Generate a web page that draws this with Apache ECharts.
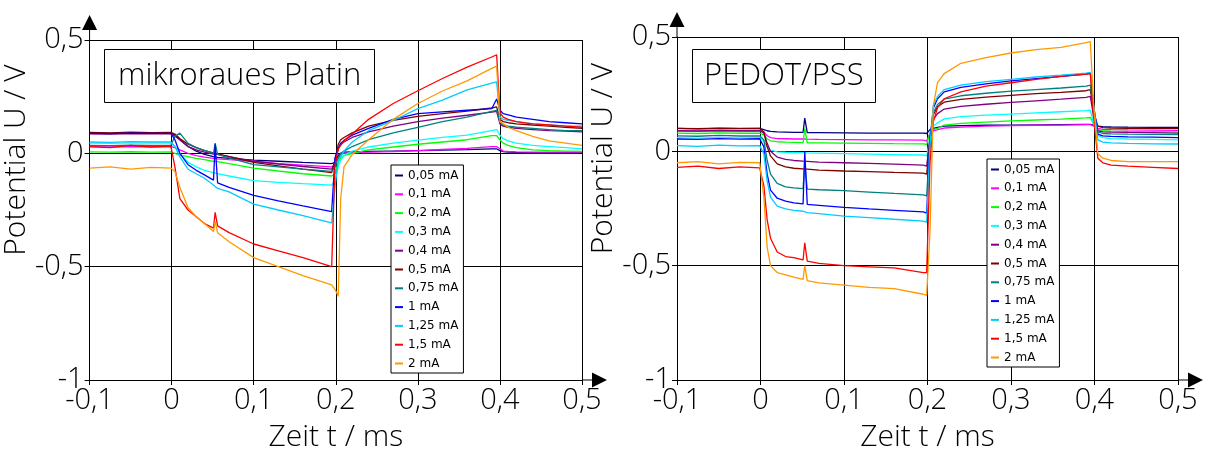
<!DOCTYPE html>
<html><head><meta charset="utf-8">
<script src="https://cdn.jsdelivr.net/npm/echarts@6/dist/echarts.min.js"></script>
<style>html,body{margin:0;padding:0;background:#fff}#c{width:1210px;height:457px}</style>
</head><body><div id="c"></div>
<script>
const seriesNames = ['0,05 mA','0,1 mA','0,2 mA','0,3 mA','0,4 mA','0,5 mA','0,75 mA','1 mA','1,25 mA','1,5 mA','2 mA'];
const seriesColors = ['#000080','#FF00FF','#00FF00','#00FFFF','#800080','#800000','#008080','#0000FF','#00CCFF','#FF0000','#FF9900'];
const xTickLabels = ['-0,1','0','0,1','0,2','0,3','0,4','0,5'];
const yTickLabels = ['-1','-0,5','0','0,5'];
const panelTitles = ['mikroraues Platin','PEDOT/PSS'];

// time axis (ms), left panel
const tPlatin = [-0.1,-0.075,-0.05,-0.025,-0.001,0.004,0.01,0.02,0.03,0.04,0.051,0.053,0.056,0.07,0.1,0.13,0.16,0.195,0.199,0.203,0.206,0.21,0.22,0.24,0.27,0.3,0.33,0.36,0.39,0.396,0.4,0.404,0.41,0.42,0.44,0.46,0.48,0.5];
const platin005 = [0.09,0.088,0.09,0.089,0.09, 0.08,0.06,0.03,0.01,-0.005,-0.015,-0.01,-0.018,-0.022,-0.03,-0.035,-0.04,-0.045, -0.04,-0.01,0,0.005,0.006,0.008,0.01,0.012,0.014,0.016,0.02,0.02, 0.012,0.008,0.005,0.004,0.003,0.003,0.003,0.003];
const platin01 = [0.03,0.028,0.03,0.029,0.03, 0.025,0.015,0,-0.01,-0.017,-0.022,-0.02,-0.024,-0.028,-0.035,-0.045,-0.052,-0.06, -0.05,-0.02,-0.005,0,0.002,0.005,0.008,0.012,0.017,0.022,0.03,0.03, 0.02,0.01,0.008,0.006,0.005,0.005,0.005,0.005];
const platin02 = [0.006,0.005,0.007,0.005,0.006, 0,-0.008,-0.015,-0.022,-0.028,-0.035,-0.03,-0.037,-0.045,-0.065,-0.078,-0.09,-0.1, -0.09,-0.04,-0.02,-0.01,0,0.015,0.028,0.04,0.05,0.06,0.078,0.078, 0.06,0.045,0.035,0.025,0.015,0.012,0.01,0.008];
const platin03 = [0.045,0.044,0.046,0.045,0.045, 0.03,0,-0.04,-0.06,-0.075,-0.085,-0.08,-0.09,-0.1,-0.12,-0.128,-0.134,-0.14, -0.12,-0.06,-0.03,-0.01,0.01,0.028,0.045,0.058,0.07,0.08,0.1,0.105, 0.08,0.065,0.055,0.045,0.035,0.03,0.025,0.02];
const platin04 = [0.086,0.085,0.087,0.086,0.086, 0.075,0.06,0.03,0.015,0.005,-0.003,0,-0.005,-0.015,-0.035,-0.047,-0.058,-0.07, -0.04,0.02,0.04,0.05,0.07,0.095,0.12,0.14,0.155,0.168,0.182,0.185, 0.13,0.12,0.115,0.11,0.105,0.1,0.098,0.095];
const platin05 = [0.092,0.09,0.093,0.091,0.092, 0.085,0.065,0.04,0.025,0.012,0.002,0.005,-0.002,-0.015,-0.04,-0.055,-0.07,-0.085, -0.03,0.04,0.06,0.07,0.09,0.12,0.145,0.163,0.175,0.186,0.2,0.205, 0.15,0.14,0.135,0.13,0.125,0.12,0.115,0.11];
const platin075 = [0.035,0.034,0.036,0.035,0.035, 0.075,0.089,0.044,0.025,0.013,0,0.045,-0.005,-0.02,-0.05,-0.06,-0.07,-0.08, -0.06,-0.02,0,0.01,0.03,0.06,0.09,0.115,0.14,0.16,0.185,0.19, 0.14,0.125,0.12,0.115,0.11,0.105,0.1,0.1];
const platin1 = [0.088,0.087,0.089,0.088,0.088, 0.06,0,-0.05,-0.075,-0.095,-0.118,0.04,-0.13,-0.15,-0.185,-0.21,-0.232,-0.257, -0.02,0.02,0.045,0.057,0.08,0.11,0.15,0.175,0.183,0.19,0.197,0.24, 0.19,0.175,0.17,0.16,0.15,0.14,0.135,0.13];
const platin125 = [0.05,0.048,0.052,0.05,0.05, 0.03,-0.016,-0.07,-0.09,-0.11,-0.14,-0.145,-0.155,-0.17,-0.224,-0.25,-0.275,-0.307, -0.15,-0.03,-0.015,0.01,0.05,0.1,0.145,0.197,0.235,0.28,0.31,0.315, 0.16,0.15,0.145,0.14,0.13,0.125,0.12,0.12];
const platin15 = [0.03,0.025,0.035,0.028,0.032, -0.06,-0.2,-0.25,-0.28,-0.31,-0.33,-0.26,-0.32,-0.35,-0.4,-0.43,-0.46,-0.5, -0.05,0.02,0.035,0.055,0.085,0.15,0.22,0.276,0.33,0.38,0.425,0.435, 0.18,0.16,0.15,0.14,0.13,0.125,0.12,0.115];
const platin2 = [-0.065,-0.06,-0.07,-0.062,-0.065, -0.08,-0.15,-0.24,-0.28,-0.31,-0.345,-0.3,-0.35,-0.39,-0.46,-0.5,-0.54,-0.58, -0.6,-0.63,-0.2,-0.06,-0.005,0.06,0.15,0.22,0.275,0.32,0.375,0.385, 0.14,0.13,0.115,0.1,0.075,0.055,0.045,0.035];

// time axis (ms), right panel
const tPedot = [-0.1,-0.075,-0.05,-0.025,-0.001,0.004,0.008,0.012,0.02,0.03,0.04,0.051,0.053,0.056,0.07,0.1,0.13,0.16,0.195,0.199,0.203,0.207,0.212,0.22,0.24,0.27,0.3,0.33,0.36,0.39,0.395,0.399,0.404,0.41,0.42,0.44,0.47,0.5];
const pedot005 = [0.1,0.098,0.1,0.099,0.1, 0.095,0.09,0.087,0.085,0.084,0.083,0.083,0.145,0.082,0.082,0.081,0.08,0.08,0.08, 0.078,0.095,0.1,0.105,0.11,0.112,0.114,0.115,0.116,0.117,0.118,0.118, 0.115,0.11,0.108,0.107,0.106,0.105,0.105];
const pedot01 = [0.09,0.088,0.091,0.089,0.09, 0.085,0.068,0.06,0.056,0.055,0.054,0.054,0.06,0.053,0.052,0.051,0.05,0.05,0.049, 0.045,0.08,0.09,0.095,0.102,0.106,0.11,0.112,0.114,0.115,0.117,0.117, 0.11,0.1,0.096,0.095,0.094,0.093,0.092];
const pedot02 = [0.08,0.078,0.081,0.079,0.08, 0.072,0.055,0.046,0.042,0.04,0.039,0.038,0.1,0.037,0.037,0.036,0.035,0.034,0.033, 0.03,0.08,0.095,0.1,0.115,0.122,0.128,0.133,0.137,0.141,0.146,0.148, 0.12,0.095,0.09,0.088,0.087,0.086,0.085];
const pedot03 = [0.06,0.058,0.061,0.059,0.06, 0.045,0.02,0.005,-0.002,-0.004,-0.005,-0.006,-0.006,-0.007,-0.008,-0.01,-0.012,-0.014,-0.016, -0.02,0.06,0.11,0.125,0.142,0.152,0.158,0.163,0.168,0.173,0.178,0.18, 0.12,0.07,0.06,0.056,0.054,0.052,0.05];
const pedot04 = [0.09,0.089,0.091,0.09,0.09, 0.08,0.035,0,-0.025,-0.035,-0.04,-0.043,-0.043,-0.044,-0.047,-0.05,-0.053,-0.056,-0.06, -0.065,0.06,0.14,0.165,0.185,0.197,0.206,0.214,0.221,0.228,0.236,0.24, 0.15,0.09,0.085,0.084,0.083,0.082,0.08];
const pedot05 = [0.1,0.099,0.101,0.1,0.1, 0.085,0.02,-0.02,-0.055,-0.068,-0.074,-0.077,-0.077,-0.078,-0.082,-0.086,-0.089,-0.092,-0.095, -0.1,0.05,0.16,0.195,0.215,0.227,0.237,0.245,0.252,0.258,0.265,0.27, 0.17,0.11,0.104,0.102,0.101,0.1,0.1];
const pedot075 = [0.068,0.066,0.07,0.067,0.068, 0.05,-0.04,-0.1,-0.14,-0.155,-0.16,-0.163,-0.05,-0.165,-0.168,-0.172,-0.178,-0.184,-0.19, -0.195,0.05,0.17,0.205,0.228,0.243,0.254,0.263,0.27,0.277,0.285,0.29, 0.18,0.085,0.078,0.076,0.075,0.074,0.073];
const pedot1 = [0.054,0.052,0.056,0.053,0.055, 0.02,-0.1,-0.17,-0.205,-0.218,-0.225,-0.23,0.0,-0.232,-0.236,-0.245,-0.252,-0.258,-0.265, -0.27,0.05,0.19,0.23,0.26,0.28,0.295,0.308,0.318,0.328,0.338,0.342, 0.2,0.075,0.068,0.065,0.063,0.062,0.06];
const pedot125 = [0.025,0.022,0.027,0.024,0.025, -0.01,-0.13,-0.2,-0.24,-0.252,-0.258,-0.262,-0.262,-0.268,-0.272,-0.283,-0.29,-0.297,-0.305, -0.31,0.03,0.2,0.24,0.27,0.29,0.305,0.315,0.325,0.333,0.342,0.345, 0.2,0.05,0.04,0.037,0.035,0.033,0.032];
const pedot15 = [-0.07,-0.065,-0.075,-0.068,-0.072, -0.15,-0.3,-0.38,-0.44,-0.46,-0.465,-0.475,-0.4,-0.48,-0.49,-0.5,-0.505,-0.51,-0.53, -0.53,-0.05,0.13,0.19,0.23,0.26,0.285,0.3,0.315,0.328,0.338,0.34, 0.15,-0.03,-0.05,-0.06,-0.065,-0.07,-0.075];
const pedot2 = [-0.05,-0.045,-0.055,-0.048,-0.05, -0.2,-0.42,-0.5,-0.53,-0.54,-0.55,-0.56,-0.5,-0.565,-0.575,-0.585,-0.595,-0.6,-0.625, -0.63,-0.35,0.2,0.3,0.34,0.385,0.41,0.43,0.445,0.455,0.475,0.48, 0.2,-0.01,-0.03,-0.04,-0.045,-0.045,-0.045];

const platinSets = [platin005,platin01,platin02,platin03,platin04,platin05,platin075,platin1,platin125,platin15,platin2];
const pedotSets = [pedot005,pedot01,pedot02,pedot03,pedot04,pedot05,pedot075,pedot1,pedot125,pedot15,pedot2];

const FONT = 'Open Sans';
const arrow = 'path://M7.5,0L15,15L8,15L8,25L7,25L7,15L0,15Z';

function xAx(idx){
  return {
    type:'value', gridIndex:idx, min:-0.1, max:0.5, interval:0.1,
    name:'Zeit t / ms', nameLocation:'middle', nameGap:42,
    nameTextStyle:{fontFamily:FONT, fontSize:30, fontWeight:300, color:'#000'},
    axisLine:{show:true, onZero:false, lineStyle:{color:'#000', width:1}, symbol:['none', arrow], symbolSize:[15,25], symbolOffset:[0,12.5]},
    axisTick:{show:true, inside:false, length:5, lineStyle:{color:'#000'}},
    axisLabel:{margin:6, fontFamily:FONT, fontSize:29, fontWeight:300, color:'#000', formatter:(v,i)=>xTickLabels[i]},
    splitLine:{show:true, lineStyle:{color:'#000', width:1}}
  };
}
function yAx(idx, gap){
  return {
    type:'value', gridIndex:idx, min:-1, max:0.5, interval:0.5,
    name:'Potential U / V', nameLocation:'middle', nameGap:gap,
    nameTextStyle:{fontFamily:FONT, fontSize:30, fontWeight:300, color:'#000', padding:[0,0,0,100]},
    axisLine:{show:true, onZero:false, lineStyle:{color:'#000', width:1}, symbol:['none', arrow], symbolSize:[15,25], symbolOffset:[0,12.5]},
    axisTick:{show:true, inside:false, length:5, lineStyle:{color:'#000'}},
    axisLabel:{margin:6, fontFamily:FONT, fontSize:29, fontWeight:300, color:'#000', formatter:(v,i)=>yTickLabels[i]},
    splitLine:{show:true, lineStyle:{color:'#000', width:1}}
  };
}
function legendAt(left, top){
  return {
    orient:'vertical', left:left, top:top, data:seriesNames,
    backgroundColor:'#fff', borderColor:'#000', borderWidth:1, borderRadius:0,
    padding:[4,5,3,4], itemWidth:8, itemHeight:2, itemGap:5.8, icon:'rect',
    textStyle:{fontFamily:'DejaVu Sans', fontSize:12, lineHeight:13, color:'#000'},
    selectedMode:false
  };
}
const series = [];
[platinSets, pedotSets].forEach((sets, p) => {
  const ts = p === 0 ? tPlatin : tPedot;
  sets.forEach((vals, i) => {
    series.push({
      type:'line', name:seriesNames[i], xAxisIndex:p, yAxisIndex:p,
      data: ts.map((t,k)=>[t, vals[k]]),
      showSymbol:false, symbol:'none', clip:true,
      lineStyle:{width:1.3, color:seriesColors[i]}, itemStyle:{color:seriesColors[i]},
      emphasis:{disabled:true}, z:3
    });
  });
});

const chart = echarts.init(document.getElementById('c'), null, {renderer:'canvas'});
chart.setOption({
  animation:false,
  backgroundColor:'#fff',
  title:[
    {text:panelTitles[0], left:104, top:49, padding:[10,14,10,14], borderColor:'#000', borderWidth:1, backgroundColor:'#fff',
     textStyle:{fontFamily:FONT, fontSize:31, fontWeight:300, color:'#000', lineHeight:34}, z:10},
    {text:panelTitles[1], left:692, top:49, padding:[10,12,10,12], borderColor:'#000', borderWidth:1, backgroundColor:'#fff',
     textStyle:{fontFamily:FONT, fontSize:31, fontWeight:300, color:'#000', lineHeight:34}, z:10}
  ],
  legend:[legendAt(391,165), legendAt(987,159)],
  grid:[
    {left:88, top:40, width:494, height:340},
    {left:677, top:37, width:501, height:346}
  ],
  xAxis:[xAx(0), xAx(1)],
  yAxis:[yAx(0,45), yAx(1,58)],
  series: series
});
</script></body></html>
